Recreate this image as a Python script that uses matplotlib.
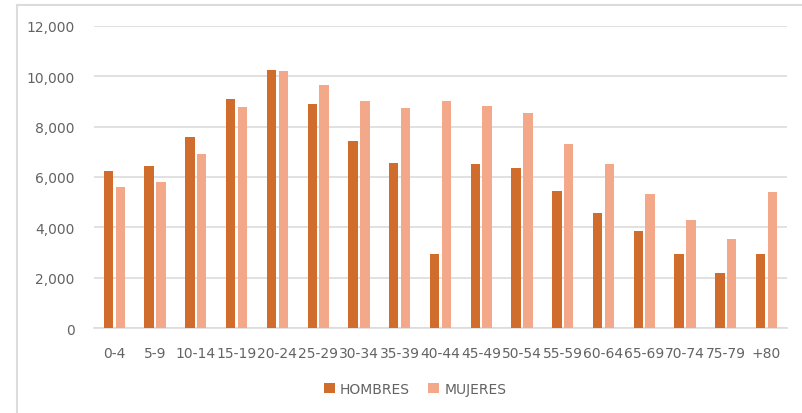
import matplotlib.pyplot as plt
from matplotlib.lines import Line2D
import numpy as np

grupos = ["0-4", "5-9", "10-14", "15-19", "20-24", "25-29", "30-34", "35-39",
          "40-44", "45-49", "50-54", "55-59", "60-64", "65-69", "70-74", "75-79", "+80"]
hombres = [6240, 6430, 7590, 9100, 10250, 8900, 7430, 6560,
           2940, 6520, 6360, 5440, 4570, 3860, 2940, 2190, 2940]
mujeres = [5600, 5800, 6910, 8780, 10200, 9650, 9000, 8740,
           9000, 8820, 8550, 7310, 6520, 5320, 4290, 3530, 5400]

COLOR_H = "#D06C2C"
COLOR_M = "#F3A889"
GRIS = "#636363"
LINEA = "#DCDCDC"

fig = plt.figure(figsize=(8.03, 4.14), dpi=100)
ax = fig.add_axes([0.117, 0.2053, 0.863, 0.7295])

# marco exterior del gráfico (solo borde superior e izquierdo quedan visibles)
fig.add_artist(Line2D([0.0215, 1.0], [0.9855, 0.9855], transform=fig.transFigure,
                      color=LINEA, linewidth=1.5))
fig.add_artist(Line2D([0.0215, 0.0215], [0.0, 0.9855], transform=fig.transFigure,
                      color=LINEA, linewidth=1.5))

x = np.arange(len(grupos))
ancho = 0.23
ax.bar(x - 0.145, hombres, ancho, color=COLOR_H, label="HOMBRES", zorder=3)
ax.bar(x + 0.145, mujeres, ancho, color=COLOR_M, label="MUJERES", zorder=3)

ax.set_xlim(-0.5, len(grupos) - 0.5)
ax.set_ylim(0, 12000)
ax.set_yticks(range(0, 12001, 2000))
ax.set_yticklabels([f"{v:,}" for v in range(0, 12001, 2000)])
ax.set_xticks(x)
ax.set_xticklabels(grupos)

ax.grid(axis="y", color=LINEA, linewidth=1.2, zorder=0)
for s in ["top", "right", "left"]:
    ax.spines[s].set_visible(False)
ax.spines["bottom"].set_color(LINEA)
ax.spines["bottom"].set_linewidth(1.2)
ax.tick_params(axis="both", length=0, colors=GRIS, labelsize=10)
ax.tick_params(axis="y", pad=14)
ax.tick_params(axis="x", pad=13)

fig.legend(loc="center", bbox_to_anchor=(0.517, 0.058), ncol=2, frameon=False,
           fontsize=10, labelcolor=GRIS, handlelength=0.75, handleheight=0.75,
           handletextpad=0.4, columnspacing=1.3)

fig.savefig("out.png", dpi=100)
